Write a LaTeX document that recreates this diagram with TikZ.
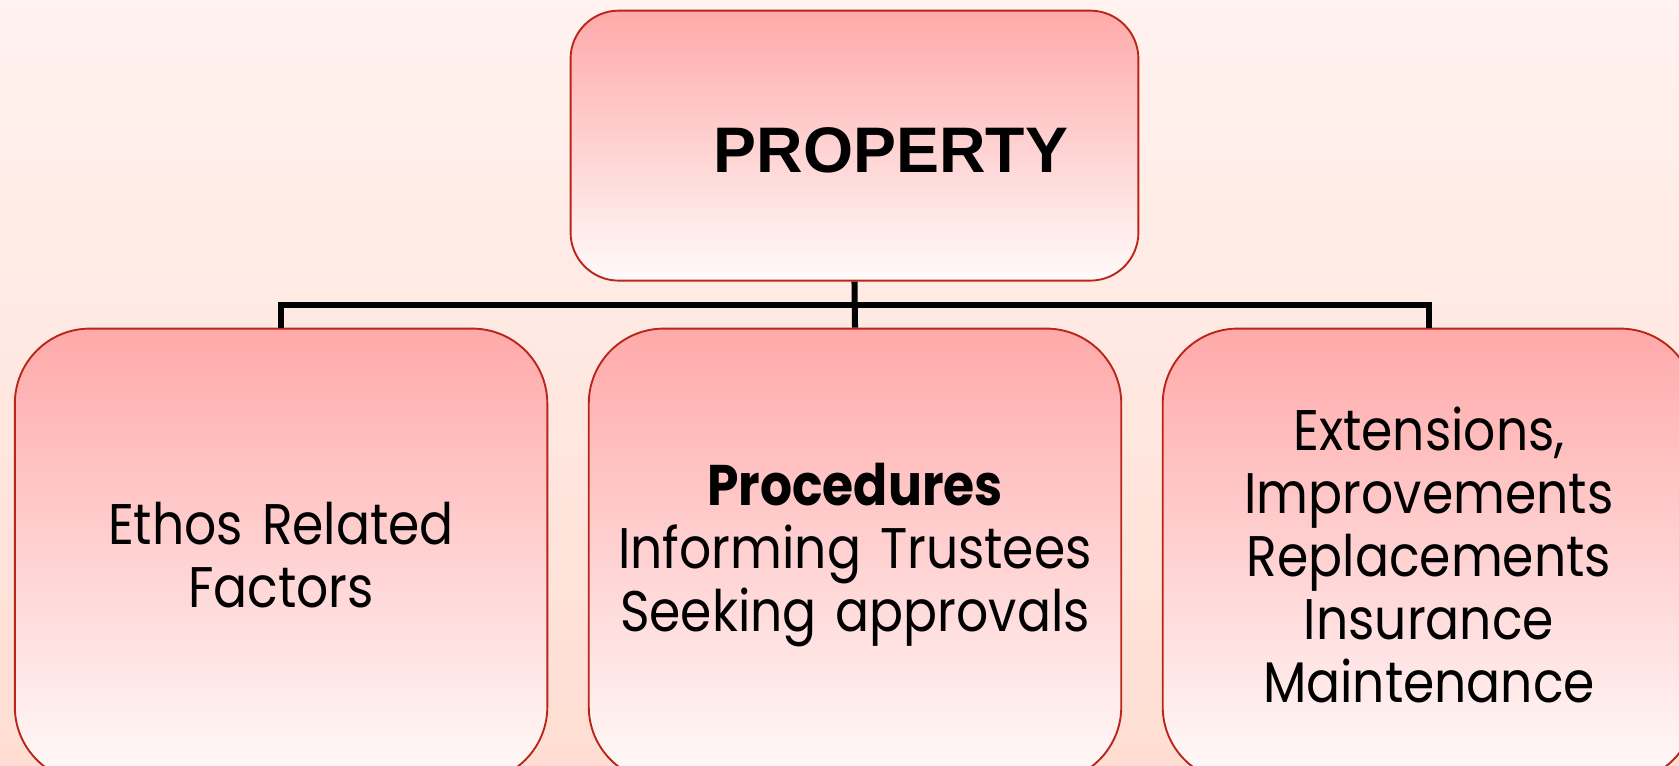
\documentclass[tikz,border=0pt]{standalone}
\usepackage{fontspec}
\setmainfont[FakeStretch=0.88]{Poppins}
\newfontfamily\headfont{Liberation Sans}
\definecolor{bgtop}{HTML}{FFF2EF}
\definecolor{bgbot}{HTML}{FFDDD2}
\definecolor{boxtop}{HTML}{FFA9A9}
\definecolor{boxbot}{HTML}{FFFAFA}
\definecolor{boxline}{HTML}{B8261A}
\tikzset{
  card/.style={draw=boxline, line width=0.5pt, rounded corners=0.7cm,
    top color=boxtop, bottom color=boxbot, minimum width=4.97cm,
    minimum height=4.23cm, text width=4.9cm, align=center,
    font=\fontsize{15.2}{16.7}\selectfont, inner sep=0pt},
  headbox/.style={draw=boxline, line width=0.5pt, rounded corners=0.45cm,
    top color=boxtop, bottom color=boxbot, minimum width=5.3cm,
    minimum height=2.52cm, inner sep=0pt},
  headtext/.style={font=\headfont\bfseries\fontsize{17.1}{20}\selectfont, inner sep=0pt},
  conn/.style={draw=black, line width=1.6pt}
}
\begin{document}
\begin{tikzpicture}[x=0.01cm,y=-0.01cm]
\useasboundingbox (0,0) rectangle (1568,715);
\clip (0,0) rectangle (1568,715);
\shade[top color=bgtop, bottom color=bgbot] (0,0) rectangle (1568,715);
\node[headbox] (top) at (798,136) {};
\node[headtext] (title) at (832,140) {PROPERTY};
\node[card] (left) at (262.5,518.5) {Ethos Related\\Factors};
\node[card] (mid) at (798.5,518.5) {\textbf{Procedures}\\Informing Trustees\\Seeking approvals};
\node[card] (right) at (1334.5,518.5) {Extensions,\\Improvements\\Replacements\\Insurance\\Maintenance};
\draw[conn] (top.south) -- (mid.north);
\draw[conn] (left.north) -- ++(0,-21) -| (right.north);
\end{tikzpicture}
\end{document}
